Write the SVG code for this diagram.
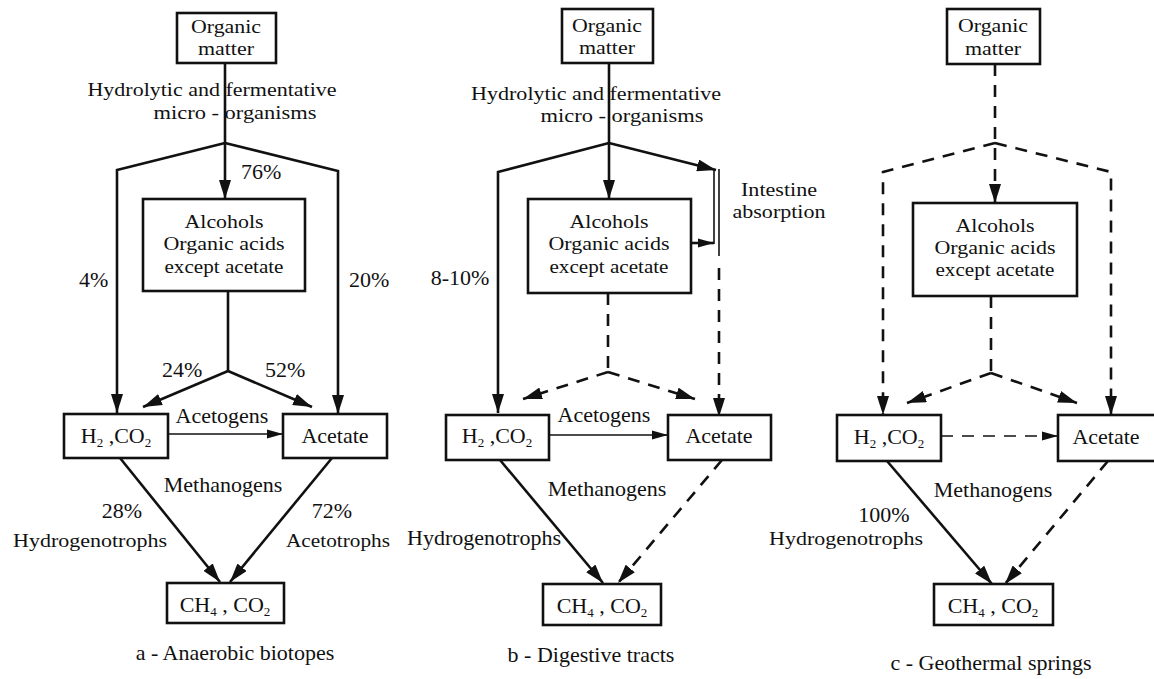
<svg xmlns="http://www.w3.org/2000/svg" width="1154" height="679" viewBox="0 0 1154 679">
<defs>
<style>
text{font-family:"Liberation Serif","Times New Roman",serif;font-size:22px;fill:#111;}
.m{text-anchor:middle;}
.s{font-size:19.5px;}
.sub{font-size:13px;}
.box{fill:#fff;stroke:#111;stroke-width:2.6;}
.c{fill:none;stroke:#111;stroke-width:2.6;stroke-linejoin:miter;}
.t{fill:none;stroke:#111;stroke-width:1.6;}
.d{stroke-dasharray:12 9;}
</style>
<marker id="ah" markerUnits="userSpaceOnUse" markerWidth="20" markerHeight="12" refX="19" refY="6" orient="auto">
<path d="M0,0 L19,6 L0,12 Z" fill="#111"/>
</marker>
<marker id="as" markerUnits="userSpaceOnUse" markerWidth="17" markerHeight="10" refX="16" refY="5" orient="auto">
<path d="M0,0.5 L16,5 L0,9.5 Z" fill="#111"/>
</marker>
</defs>
<rect width="1154" height="679" fill="#fff"/>

<g id="connectors">
<!-- panel a -->
<path class="c" d="M225,63 L225,199" marker-end="url(#ah)"/>
<path class="c" d="M225,143 L117,170 L117,413" marker-end="url(#ah)"/>
<path class="c" d="M225,143 L338,171 L338,414" marker-end="url(#ah)"/>
<path class="c" d="M228,291 L228,371"/>
<path class="c" d="M228,371 L143,407" marker-end="url(#ah)"/>
<path class="c" d="M228,371 L312,407" marker-end="url(#ah)"/>
<path class="t" d="M168,434 L283,434" marker-end="url(#as)"/>
<path class="c" d="M120,458 L220,582" marker-end="url(#ah)"/>
<path class="c" d="M332,458 L230,582" marker-end="url(#ah)"/>
<!-- panel b -->
<path class="c" d="M609,63 L609,199" marker-end="url(#ah)"/>
<path class="c" d="M609,143 L498,172 L498,413" marker-end="url(#ah)"/>
<path class="c" d="M609,143 L716,170" marker-end="url(#ah)"/>
<path class="t" d="M714,170 L714,244"/>
<path class="t" d="M719,169 L719,256"/>
<path class="c" d="M691,243 L714,243" marker-end="url(#as)"/>
<path class="c d" d="M719,268 L719,417" marker-end="url(#ah)"/>
<path class="c d" d="M608,293 L608,372"/>
<path class="c d" d="M608,372 L523,399" marker-end="url(#ah)"/>
<path class="c d" d="M608,372 L695,399" marker-end="url(#ah)"/>
<path class="t" d="M549,435 L668,435" marker-end="url(#as)"/>
<path class="c" d="M500,460 L603,583" marker-end="url(#ah)"/>
<path class="c d" d="M722,460 L618,583" marker-end="url(#ah)"/>
<!-- panel c -->
<path class="c d" d="M995,64 L995,203" marker-end="url(#ah)"/>
<path class="c d" d="M995,143 L883,172 L883,415" marker-end="url(#ah)"/>
<path class="c d" d="M995,143 L1111,172 L1111,415" marker-end="url(#ah)"/>
<path class="c d" d="M991,296 L991,373"/>
<path class="c d" d="M991,373 L907,403" marker-end="url(#ah)"/>
<path class="c d" d="M991,373 L1077,403" marker-end="url(#ah)"/>
<path class="t d" d="M941,436 L1058,436" marker-end="url(#as)"/>
<path class="c" d="M887,461 L992,584" marker-end="url(#ah)"/>
<path class="c d" d="M1108,461 L1005,584" marker-end="url(#ah)"/>
</g>

<g id="labels">
<text class="m s" x="212" y="96" textLength="249" lengthAdjust="spacingAndGlyphs">Hydrolytic and fermentative</text>
<text class="m s" x="235" y="119" textLength="163" lengthAdjust="spacingAndGlyphs">micro - organisms</text>
<text x="241" y="179">76%</text>
<text x="79" y="287">4%</text>
<text x="349" y="287">20%</text>
<text x="162" y="377">24%</text>
<text x="265" y="377">52%</text>
<text class="m" x="222" y="423">Acetogens</text>
<text class="m" x="223" y="492">Methanogens</text>
<text class="m" x="122" y="518">28%</text>
<text class="m s" x="90" y="547" textLength="154" lengthAdjust="spacingAndGlyphs">Hydrogenotrophs</text>
<text class="m" x="332" y="518">72%</text>
<text class="m s" x="338" y="547" textLength="104" lengthAdjust="spacingAndGlyphs">Acetotrophs</text>
<text class="m" x="235" y="660">a - Anaerobic biotopes</text>

<text class="m s" x="596" y="100" textLength="250" lengthAdjust="spacingAndGlyphs">Hydrolytic and fermentative</text>
<text class="m s" x="622" y="122" textLength="163" lengthAdjust="spacingAndGlyphs">micro - organisms</text>
<text class="m s" x="779" y="196" textLength="76" lengthAdjust="spacingAndGlyphs">Intestine</text>
<text class="m s" x="779" y="218" textLength="93" lengthAdjust="spacingAndGlyphs">absorption</text>
<text class="m" x="460" y="285">8-10%</text>
<text class="m" x="604" y="422">Acetogens</text>
<text class="m" x="607" y="496">Methanogens</text>
<text class="m" x="484" y="545">Hydrogenotrophs</text>
<text class="m" x="591" y="662">b - Digestive tracts</text>

<text class="m" x="993" y="497">Methanogens</text>
<text class="m" x="884" y="522">100%</text>
<text class="m s" x="846" y="545" textLength="154" lengthAdjust="spacingAndGlyphs">Hydrogenotrophs</text>
<text class="m" x="991" y="670">c - Geothermal springs</text>
</g>

<g id="a-organic"><rect class="box" x="177" y="13" width="99" height="50"/><text class="m s" x="226" y="33" textLength="70" lengthAdjust="spacingAndGlyphs">Organic</text><text class="m s" x="226" y="55" textLength="56" lengthAdjust="spacingAndGlyphs">matter</text></g>
<g id="a-alcohols"><rect class="box" x="143" y="199" width="162" height="92"/><text class="m s" x="224" y="228" textLength="79" lengthAdjust="spacingAndGlyphs">Alcohols</text><text class="m s" x="224" y="250" textLength="121" lengthAdjust="spacingAndGlyphs">Organic acids</text><text class="m s" x="224" y="273" textLength="119" lengthAdjust="spacingAndGlyphs">except acetate</text></g>
<g id="a-h2"><rect class="box" x="64" y="414" width="104" height="44"/><text class="m" x="116" y="443">H<tspan class="sub" dy="4">2</tspan><tspan dy="-4"> ,CO</tspan><tspan class="sub" dy="4">2</tspan></text></g>
<g id="a-acetate"><rect class="box" x="283" y="414" width="104" height="44"/><text class="m" x="335" y="443">Acetate</text></g>
<g id="a-ch4"><rect class="box" x="167" y="583" width="117" height="40"/><text class="m" x="225" y="612">CH<tspan class="sub" dy="4">4</tspan><tspan dy="-4"> , CO</tspan><tspan class="sub" dy="4">2</tspan></text></g>

<g id="b-organic"><rect class="box" x="562" y="9" width="91" height="54"/><text class="m s" x="607" y="32" textLength="70" lengthAdjust="spacingAndGlyphs">Organic</text><text class="m s" x="607" y="54" textLength="56" lengthAdjust="spacingAndGlyphs">matter</text></g>
<g id="b-alcohols"><rect class="box" x="528" y="199" width="163" height="94"/><text class="m s" x="609" y="228" textLength="79" lengthAdjust="spacingAndGlyphs">Alcohols</text><text class="m s" x="609" y="250" textLength="121" lengthAdjust="spacingAndGlyphs">Organic acids</text><text class="m s" x="609" y="273" textLength="119" lengthAdjust="spacingAndGlyphs">except acetate</text></g>
<g id="b-h2"><rect class="box" x="446" y="415" width="103" height="45"/><text class="m" x="497" y="443">H<tspan class="sub" dy="4">2</tspan><tspan dy="-4"> ,CO</tspan><tspan class="sub" dy="4">2</tspan></text></g>
<g id="b-acetate"><rect class="box" x="668" y="415" width="103" height="45"/><text class="m" x="719" y="443">Acetate</text></g>
<g id="b-ch4"><rect class="box" x="543" y="584" width="118" height="41"/><text class="m" x="602" y="613">CH<tspan class="sub" dy="4">4</tspan><tspan dy="-4"> , CO</tspan><tspan class="sub" dy="4">2</tspan></text></g>

<g id="c-organic"><rect class="box" x="947" y="9" width="93" height="55"/><text class="m s" x="993" y="32" textLength="70" lengthAdjust="spacingAndGlyphs">Organic</text><text class="m s" x="993" y="55" textLength="56" lengthAdjust="spacingAndGlyphs">matter</text></g>
<g id="c-alcohols"><rect class="box" x="913" y="203" width="164" height="93"/><text class="m s" x="995" y="232" textLength="79" lengthAdjust="spacingAndGlyphs">Alcohols</text><text class="m s" x="995" y="254" textLength="121" lengthAdjust="spacingAndGlyphs">Organic acids</text><text class="m s" x="995" y="276" textLength="119" lengthAdjust="spacingAndGlyphs">except acetate</text></g>
<g id="c-h2"><rect class="box" x="837" y="415" width="104" height="46"/><text class="m" x="889" y="444">H<tspan class="sub" dy="4">2</tspan><tspan dy="-4"> ,CO</tspan><tspan class="sub" dy="4">2</tspan></text></g>
<g id="c-acetate"><rect class="box" x="1058" y="415" width="104" height="46"/><text class="m" x="1106" y="444">Acetate</text></g>
<g id="c-ch4"><rect class="box" x="934" y="584" width="119" height="41"/><text class="m" x="993" y="613">CH<tspan class="sub" dy="4">4</tspan><tspan dy="-4"> , CO</tspan><tspan class="sub" dy="4">2</tspan></text></g>
</svg>
